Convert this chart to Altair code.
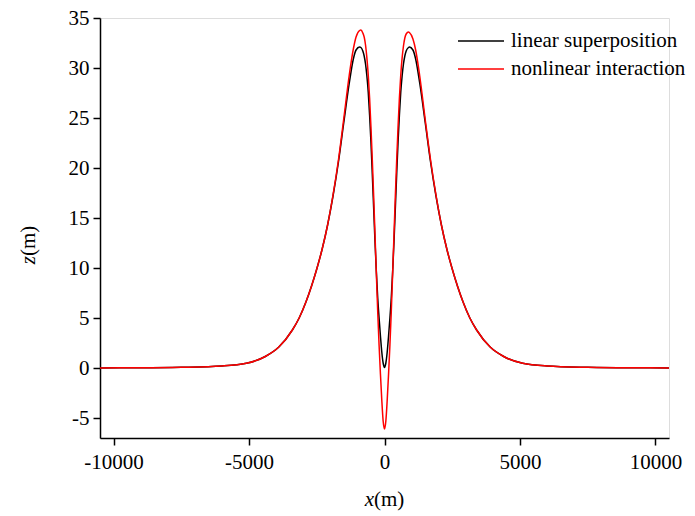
import altair as alt
import pandas as pd

# x positions (m)
x_vals = [-10500, -9000, -7500, -6000, -5100, -4400, -3900, -3400, -3150, -2900, -2500,
          -2300, -2100, -1900, -1700, -1500, -1300, -1150, -1050, -920, -870, -800,
          -750, -700, -650, -600, -550, -500, -450, -400, -350, -300, -250, -200,
          -150, -100, -50, 0,
          50, 100, 150, 200, 250, 300, 350, 400, 450, 500, 550, 600, 650, 700,
          750, 800, 886, 920, 1050, 1150, 1300, 1500, 1700, 1900, 2100, 2300,
          2500, 2900, 3150, 3400, 3900, 4400, 5100, 6000, 7500, 9000, 10500]

linear_z = [0.01, 0.02, 0.07, 0.2, 0.47, 1.15, 2.1, 3.8, 5.0, 6.6, 9.9,
            11.9, 14.3, 17.2, 20.6, 24.6, 28.5, 30.9, 31.8, 32.1, 32.05, 31.7,
            31.2, 30.4, 29.2, 27.6, 25.3, 22.6, 19.4, 16.0, 12.6, 9.6, 7.0, 5.0,
            3.2, 1.6, 0.5, 0.05,
            0.5, 1.6, 3.2, 5.0, 7.0, 9.6, 12.6, 16.0, 19.4, 22.6, 25.3, 27.6, 29.2, 30.4,
            31.2, 31.7, 32.05, 32.1, 31.8, 30.9, 28.5, 24.6, 20.6, 17.2, 14.3, 11.9,
            9.9, 6.6, 5.0, 3.8, 2.1, 1.15, 0.47, 0.2, 0.07, 0.02, 0.01]

nonlinear_z = [0.01, 0.02, 0.07, 0.2, 0.47, 1.15, 2.1, 3.8, 5.0, 6.6, 9.9,
               11.9, 14.3, 17.3, 20.8, 25.0, 29.3, 31.9, 33.1, 33.75, 33.8, 33.5,
               33.1, 32.3, 31.0, 29.3, 27.0, 24.1, 20.8, 17.2, 13.3, 9.4, 5.6, 2.3,
               -0.6, -3.2, -5.3, -6.1,
               -5.3, -3.2, -0.6, 2.3, 5.6, 9.4, 13.3, 17.2, 20.8, 24.1, 27.0, 29.3, 31.0, 32.2,
               33.0, 33.4, 33.6, 33.55, 32.9, 31.8, 29.2, 24.9, 20.8, 17.3, 14.3, 11.9,
               9.9, 6.6, 5.0, 3.8, 2.1, 1.15, 0.47, 0.2, 0.07, 0.02, 0.01]

series_names = ["linear superposition", "nonlinear interaction"]
series_colors = ["#000000", "#ff0000"]

x_ticks = [-10000, -5000, 0, 5000, 10000]
y_ticks = [-5, 0, 5, 10, 15, 20, 25, 30, 35]

rows = []
for i, xv in enumerate(x_vals):
    rows.append({"x": xv, "z": linear_z[i], "series": series_names[0], "k": 0})
for i, xv in enumerate(x_vals):
    rows.append({"x": xv, "z": nonlinear_z[i], "series": series_names[1], "k": 1})
df = pd.DataFrame(rows)

FONT = "Liberation Serif"

lines = alt.Chart(df).mark_line(strokeWidth=1.5, interpolate="monotone", clip=True).encode(
    x=alt.X("x:Q",
            scale=alt.Scale(domain=[-10500, 10500], nice=False, zero=False),
            axis=alt.Axis(values=x_ticks, labelExpr="'' + datum.value", title=None,
                          grid=False, domainColor="black", domainWidth=1.5,
                          tickColor="black", tickWidth=1.5, tickSize=7,
                          labelFont=FONT, labelFontSize=21, labelColor="black",
                          labelPadding=6, labelFlush=False)),
    y=alt.Y("z:Q",
            scale=alt.Scale(domain=[-7, 35], nice=False, zero=False),
            axis=alt.Axis(values=y_ticks, labelExpr="'' + datum.value", title=None,
                          grid=False, domainColor="black", domainWidth=1.5,
                          tickColor="black", tickWidth=1.5, tickSize=7,
                          labelFont=FONT, labelFontSize=21, labelColor="black",
                          labelPadding=4, labelFlush=False)),
    color=alt.Color("series:N",
                    scale=alt.Scale(domain=series_names, range=series_colors),
                    legend=alt.Legend(title=None, orient="none", legendX=357, legendY=9,
                                      symbolType="stroke", symbolSize=2116,
                                      symbolStrokeWidth=1.5, labelFont=FONT,
                                      labelFontSize=21, labelColor="black",
                                      labelOffset=6, labelLimit=0, clipHeight=28,
                                      rowPadding=0, padding=0)),
    order=alt.Order("k:Q"),
    detail="series:N",
)

ytitle_z = alt.Chart(pd.DataFrame({"t": ["z"]})).mark_text(
    font=FONT, fontSize=21, fontStyle="italic", angle=270, align="right",
    baseline="middle", color="black").encode(
    text="t:N", x=alt.value(-71), y=alt.value(238))
ytitle_m = alt.Chart(pd.DataFrame({"t": ["(m)"]})).mark_text(
    font=FONT, fontSize=21, angle=270, align="left",
    baseline="middle", color="black").encode(
    text="t:N", x=alt.value(-71), y=alt.value(238))
xtitle_x = alt.Chart(pd.DataFrame({"t": ["x"]})).mark_text(
    font=FONT, fontSize=21, fontStyle="italic", align="right",
    baseline="middle", color="black").encode(
    text="t:N", x=alt.value(274), y=alt.value(482))
xtitle_m = alt.Chart(pd.DataFrame({"t": ["(m)"]})).mark_text(
    font=FONT, fontSize=21, align="left",
    baseline="middle", color="black").encode(
    text="t:N", x=alt.value(274), y=alt.value(482))

chart = alt.layer(lines, ytitle_z, ytitle_m, xtitle_x, xtitle_m).properties(
    width=569, height=420,
    autosize=alt.AutoSizeParams(type="none"),
    padding={"left": 100, "top": 18, "right": 26, "bottom": 78},
).configure_view(stroke=None).configure(background="white")

chart.save("out.html", embed_options={"renderer": "svg", "actions": False})
